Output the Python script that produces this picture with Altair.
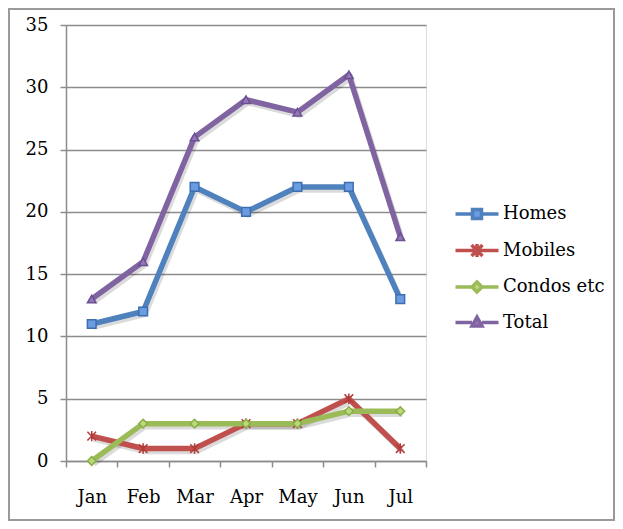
import altair as alt
import pandas as pd

months = ["Jan", "Feb", "Mar", "Apr", "May", "Jun", "Jul"]
series = ["Homes", "Mobiles", "Condos etc", "Total"]
homes = [11, 12, 22, 20, 22, 22, 13]
mobiles = [2, 1, 1, 3, 3, 5, 1]
condos = [0, 3, 3, 3, 3, 4, 4]
total = [13, 16, 26, 29, 28, 31, 18]

line_colors = ["#4f81bd", "#c0504d", "#9bbb59", "#8064a2"]
marker_fill = ["#6b9be0", "#c0504d", "#b9d97a", "#9278b8"]
marker_stroke = ["#3d6fb0", "#b03c39", "#8aae48", "#6c5093"]
marker_shapes = [
    "square",
    "M-1,-1L1,1M-1,1L1,-1M0,-1.2L0,1.2",
    "diamond",
    "triangle-up",
]
legend_shapes = [
    "M-2.15,0H-0.45M0.45,0H2.15M-0.45,-0.45H0.45V0.45H-0.45Z",
    "M-2.15,0H2.15M-0.55,-0.55L0.55,0.55M-0.55,0.55L0.55,-0.55M0,-0.65V0.65",
    "M-2.15,0H-0.5M0.5,0H2.15M0,-0.5L0.5,0L0,0.5L-0.5,0Z",
    "M-2.15,0H-0.5M0.5,0H2.15M0,-0.55L0.5,0.35H-0.5Z",
]

rows = []
for name, vals in zip(series, [homes, mobiles, condos, total]):
    for m, v in zip(months, vals):
        rows.append({"month": m, "series": name, "value": v})
df = pd.DataFrame(rows)

FONT = "DejaVu Serif"

x_enc = alt.X(
    "month:N",
    sort=months,
    scale=alt.Scale(domain=months, paddingInner=0, paddingOuter=0),
    axis=alt.Axis(
        title=None, tickBand="extent", labelAngle=0, labelFont=FONT,
        labelFontSize=18, labelColor="#000", labelPadding=21,
        domainColor="#8c8c8c", domainWidth=1.5, tickColor="#8c8c8c",
        tickWidth=1.5, tickSize=6, grid=False,
    ),
)
y_enc = alt.Y(
    "value:Q",
    scale=alt.Scale(domain=[0, 35], nice=False),
    axis=alt.Axis(
        title=None, values=[0, 5, 10, 15, 20, 25, 30, 35], labelFont=FONT,
        labelFontSize=18, labelColor="#000", labelPadding=12,
        domainColor="#8c8c8c", domainWidth=1.5, tickColor="#8c8c8c",
        tickWidth=1.5, tickSize=6, grid=True, gridColor="#8c8c8c",
        gridWidth=1.5,
    ),
)

base = alt.Chart(df)

shadow = base.mark_line(
    strokeWidth=5.5, color="#000", opacity=0.14, xOffset=2, yOffset=3
).encode(x=x_enc, y=y_enc, detail="series:N")

lines = base.mark_line(strokeWidth=5.5, strokeJoin="round").encode(
    x=x_enc,
    y=y_enc,
    color=alt.Color("series:N", scale=alt.Scale(domain=series, range=line_colors), legend=None),
)

points = base.mark_point(filled=False, size=75, strokeWidth=1.5, opacity=1).encode(
    x=x_enc,
    y=y_enc,
    shape=alt.Shape("series:N", scale=alt.Scale(domain=series, range=marker_shapes), legend=None),
    fill=alt.Fill("series:N", scale=alt.Scale(domain=series, range=marker_fill), legend=None),
    stroke=alt.Stroke("series:N", scale=alt.Scale(domain=series, range=marker_stroke), legend=None),
)

legend_layer = base.transform_filter("false").mark_point(filled=False, opacity=1).encode(
    x=x_enc,
    y=y_enc,
    shape=alt.Shape(
        "series:N",
        scale=alt.Scale(domain=series, range=legend_shapes),
        legend=alt.Legend(
            title=None, orient="none", legendX=399, legendY=177, padding=0,
            symbolSize=400, symbolStrokeWidth=3.5, rowPadding=10.5,
            labelOffset=14, labelFont=FONT, labelFontSize=18,
            labelColor="#000", symbolOpacity=1,
        ),
    ),
    fill=alt.Fill("series:N", scale=alt.Scale(domain=series, range=marker_fill)),
    stroke=alt.Stroke("series:N", scale=alt.Scale(domain=series, range=line_colors)),
)

border = alt.Chart(pd.DataFrame({"a": [0]})).mark_rect(
    fill=None, stroke="#9a9a9a", strokeWidth=2, clip=False
).encode(
    x=alt.value(-57), x2=alt.value(548), y=alt.value(-16), y2=alt.value(495)
)

chart = (
    alt.layer(border, shadow, lines, points, legend_layer)
    .resolve_scale(shape="independent", fill="independent", stroke="independent")
    .properties(
        width=360,
        height=436,
        autosize=alt.AutoSizeParams(type="none"),
        padding={"left": 58, "top": 17, "right": 189, "bottom": 60},
    )
    .configure_view(stroke=None)
    .configure(background="white")
)

chart.save("out.html", embed_options={"renderer": "svg", "actions": False})
